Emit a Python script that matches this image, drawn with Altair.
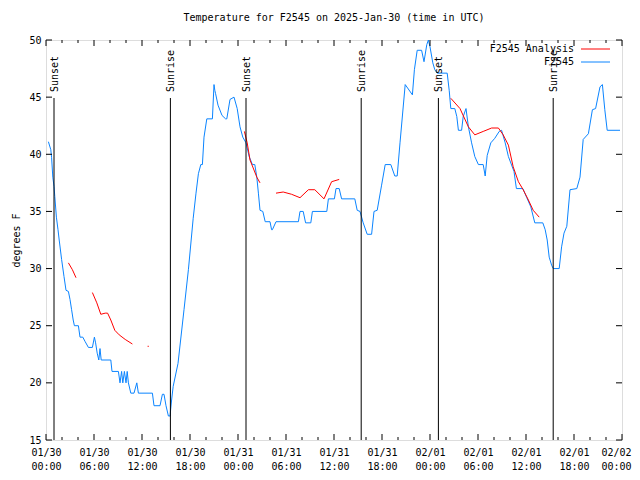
import altair as alt
import pandas as pd

# ---- data (hours since 2025-01-30 00:00 UTC, temperature in F) ----
obs_hours = [0.3, 0.6, 0.7, 0.85, 1.0, 1.1, 1.3, 1.5, 1.65, 1.95, 2.25, 2.5, 2.8, 3.0, 3.2, 3.4, 3.55,
             4.05, 4.25, 4.6, 4.9, 5.3, 5.8, 6.05, 6.2, 6.4, 6.6, 6.75, 6.9, 8.1, 8.25, 9.05, 9.25,
             9.45, 9.6, 9.8, 10.0, 10.15, 10.3, 10.6, 11.0, 11.35, 11.55, 13.3, 13.5, 14.25, 14.55,
             14.75, 15.0, 15.3, 15.5, 15.7, 15.9, 16.5, 17.25, 17.8, 18.4, 18.75, 19.05, 19.35, 19.55,
             19.75, 20.1, 20.8, 21.0, 21.1, 21.2, 21.5, 22.0, 22.45, 22.6, 23.0, 23.5, 23.9, 24.25,
             24.6, 25.0, 25.4, 25.8, 26.1, 26.35, 26.55, 26.75, 27.1, 27.4, 28.0, 28.2, 28.3, 28.75,
             31.55, 31.75, 32.15, 32.45, 33.1, 33.3, 35.1, 35.3, 36.05, 36.25, 36.65, 36.95, 38.6,
             38.9, 39.25, 39.65, 40.15, 40.7, 41.0, 41.4, 41.95, 42.4, 43.1, 43.6, 43.9, 44.25, 44.9,
             45.8, 46.05, 46.4, 46.95, 47.25, 47.6, 47.8, 48.0, 48.35, 48.6, 48.9, 50.15, 50.4, 50.6,
             51.1, 51.35, 51.55, 51.95, 52.15, 52.5, 52.8, 53.2, 53.6, 54.05, 54.65, 54.9, 55.15,
             55.6, 56.1, 56.65, 56.95, 57.4, 57.8, 58.5, 58.8, 59.6, 60.1, 60.6, 61.1, 62.1, 62.4,
             62.65, 62.9, 63.2, 63.4, 64.15, 64.45, 64.75, 65.1, 65.5, 66.35, 66.75, 67.15, 67.8,
             68.3, 68.7, 69.25, 69.55, 69.85, 70.15, 71.75]
obs_temps = [41.1, 40.4, 39.7, 38.0, 37.2, 36.3, 34.5, 33.4, 32.5, 30.8, 29.3, 28.1, 28.0, 27.3, 26.4,
             25.5, 25.0, 25.0, 24.0, 24.0, 23.6, 23.1, 23.1, 24.0, 23.5, 22.6, 22.0, 23.0, 22.0, 22.0,
             21.0, 21.0, 20.0, 21.0, 20.0, 21.0, 20.0, 21.0, 20.0, 19.1, 19.1, 20.0, 19.1, 19.1, 18.0,
             18.0, 19.0, 19.0, 18.0, 17.1, 17.1, 18.5, 19.7, 21.7, 26.4, 29.9, 34.4, 36.6, 38.3, 39.1,
             39.1, 41.5, 43.1, 43.1, 46.1, 45.6, 45.3, 44.3, 43.4, 43.1, 43.1, 44.8, 45.0, 44.0, 42.4,
             41.5, 41.0, 39.8, 39.1, 39.1, 38.0, 36.6, 35.1, 35.0, 34.1, 34.1, 33.4, 33.4, 34.1, 34.1,
             35.0, 35.0, 34.0, 34.0, 35.0, 35.0, 36.1, 36.1, 37.0, 37.0, 36.1, 36.1, 35.1, 35.0, 34.0,
             33.0, 33.0, 35.0, 35.1, 37.3, 39.1, 39.1, 38.1, 38.1, 41.0, 46.1, 45.2, 47.4, 49.1, 49.1,
             48.1, 49.6, 50.0, 49.4, 48.0, 47.4, 47.1, 47.1, 45.6, 44.0, 44.0, 43.3, 42.1, 42.1, 43.3,
             44.0, 42.4, 41.0, 39.8, 39.1, 39.1, 38.1, 39.9, 41.0, 41.4, 42.0, 42.1, 41.0, 39.8, 38.5,
             37.0, 37.0, 36.2, 35.4, 34.0, 34.0, 33.4, 32.5, 31.0, 30.3, 30.0, 30.0, 31.9, 33.1, 33.7,
             36.9, 37.0, 38.0, 41.3, 41.8, 43.9, 44.0, 45.9, 46.1, 43.9, 42.1, 42.1]

ana_hours = [2.8, 3.3, 3.75,
             5.8, 6.35, 6.85, 7.4, 7.7, 8.1, 8.6, 9.15, 9.9, 10.8,
             12.7, 12.85,
             24.8, 25.15, 25.5, 25.9, 26.35, 26.75,
             28.75, 29.65, 30.7, 31.75, 32.8, 33.6, 34.75, 35.7, 36.65,
             48.7, 48.8,
             50.6, 51.75, 52.8, 53.6, 54.65, 55.7, 56.55, 57.15, 57.8, 58.4, 59.05, 59.65, 60.3,
             60.9, 61.65]
ana_temps = [30.5, 29.9, 29.2,
             27.9, 27.0, 26.0, 26.1, 26.1, 25.5, 24.6, 24.2, 23.8, 23.4,
             23.2, 23.2,
             42.0, 41.0, 39.5, 38.8, 38.0, 37.5,
             36.6, 36.7, 36.5, 36.2, 36.9, 36.9, 36.1, 37.6, 37.8,
             46.6, 46.6,
             44.9, 44.0, 42.4, 41.7, 42.0, 42.3, 42.3, 41.7, 40.8, 38.9, 37.6, 36.9, 36.0,
             35.1, 34.5]
ana_segment = [1] * 3 + [2] * 10 + [3] * 2 + [4] * 6 + [5] * 9 + [6] * 2 + [7] * 15

sun_hours = [1.0, 15.55, 25.0, 39.4, 49.05, 63.4]
sun_labels = ["Sunset", "Sunrise", "Sunset", "Sunrise", "Sunset", "Sunrise"]

day_labels = ["01/30", "01/31", "02/01", "02/02"]
x_label_hours = [0, 6, 12, 18, 24, 30, 36, 42, 48, 54, 60, 66, 72]
x_minor_hours = [2, 4, 8, 10, 14, 16, 20, 22, 26, 28, 32, 34, 38, 40, 44, 46, 50, 52, 56, 58, 62, 64, 68, 70]
y_ticks = [15, 20, 25, 30, 35, 40, 45, 50]

FONT = "DejaVu Sans Mono"
W, H = 576, 400
RED = "#ff0000"
BLUE = "#0a84ff"

obs = pd.DataFrame({"h": obs_hours, "t": obs_temps})
ana = pd.DataFrame({"h": ana_hours, "t": ana_temps, "seg": ana_segment})
sun = pd.DataFrame({"h": sun_hours, "label": sun_labels})
xmaj = pd.DataFrame({"h": x_label_hours})
xmin = pd.DataFrame({"h": x_minor_hours})
yt = pd.DataFrame({"v": y_ticks})
one = pd.DataFrame({"a": [0]})

day_js = "[" + ",".join(f"'{d}'" for d in day_labels) + "]"
label_expr = (f"[{day_js}[floor(datum.value/24)], "
              "(datum.value%24<10?'0':'') + (datum.value%24) + ':00']")

xscale = alt.Scale(domain=[0, 72], nice=False, zero=False)
yscale = alt.Scale(domain=[15, 50], nice=False, zero=False)

xaxis = alt.Axis(values=x_label_hours, labelExpr=label_expr, tickSize=0, domain=False,
                 grid=False, title=None, labelPadding=7, labelLineHeight=14,
                 labelFlush=False, labelOverlap=False, labelBound=False,
                 labelOffset={"condition": {"test": "datum.value == 72", "value": -6}, "value": 0},
                 labelFont=FONT, labelFontSize=10, labelColor="black")
yaxis = alt.Axis(values=y_ticks, tickSize=0, domain=False, grid=False, title="degrees F",
                 labelPadding=5, labelFont=FONT, labelFontSize=10, labelColor="black",
                 labelFlush=False, labelOverlap=False,
                 titleFont=FONT, titleFontSize=10, titleFontWeight="normal", titleColor="black",
                 titlePadding=7)

base_obs = alt.Chart(obs).mark_line(color=BLUE, strokeWidth=1).encode(
    x=alt.X("h:Q", scale=xscale, axis=xaxis),
    y=alt.Y("t:Q", scale=yscale, axis=yaxis),
)

ana_line = alt.Chart(ana).mark_line(color=RED, strokeWidth=1).encode(
    x=alt.X("h:Q", scale=xscale),
    y=alt.Y("t:Q", scale=yscale),
    detail="seg:N",
)

sun_rule = alt.Chart(sun).mark_rule(color="black", strokeWidth=1).encode(
    x=alt.X("h:Q", scale=xscale), y=alt.value(58), y2=alt.value(H)
)
sun_text = alt.Chart(sun).mark_text(angle=270, align="left", baseline="middle", font=FONT,
                                    fontSize=10, color="black", dy=1).encode(
    x=alt.X("h:Q", scale=xscale), y=alt.value(52), text="label:N"
)

# inward ticks, gnuplot-style, on all four sides
tick_layers = [
    alt.Chart(xmaj).mark_rule(color="black").encode(x=alt.X("h:Q", scale=xscale), y=alt.value(H), y2=alt.value(H - 6)),
    alt.Chart(xmaj).mark_rule(color="black").encode(x=alt.X("h:Q", scale=xscale), y=alt.value(0), y2=alt.value(6)),
    alt.Chart(xmin).mark_rule(color="black").encode(x=alt.X("h:Q", scale=xscale), y=alt.value(H), y2=alt.value(H - 3)),
    alt.Chart(xmin).mark_rule(color="black").encode(x=alt.X("h:Q", scale=xscale), y=alt.value(0), y2=alt.value(3)),
    alt.Chart(yt).mark_rule(color="black").encode(y=alt.Y("v:Q", scale=yscale), x=alt.value(0), x2=alt.value(6)),
    alt.Chart(yt).mark_rule(color="black").encode(y=alt.Y("v:Q", scale=yscale), x=alt.value(W), x2=alt.value(W - 6)),
]

# key (top right)
key_layers = [
    alt.Chart(one).mark_text(align="right", baseline="middle", font=FONT, fontSize=10, color="black",
                             text="F2545 Analysis").encode(x=alt.value(528), y=alt.value(9)),
    alt.Chart(one).mark_rule(color=RED, strokeWidth=1).encode(x=alt.value(535), x2=alt.value(564), y=alt.value(9)),
    alt.Chart(one).mark_text(align="right", baseline="middle", font=FONT, fontSize=10, color="black",
                             text="F2545").encode(x=alt.value(528), y=alt.value(22)),
    alt.Chart(one).mark_rule(color=BLUE, strokeWidth=1).encode(x=alt.value(535), x2=alt.value(564), y=alt.value(22)),
]

chart = alt.layer(
    base_obs, ana_line, sun_rule, sun_text, *tick_layers, *key_layers
).properties(
    width=W, height=H,
    title=alt.TitleParams("Temperature for F2545 on 2025-Jan-30 (time in UTC)", font=FONT,
                          fontSize=10, fontWeight="normal", color="black", anchor="middle", offset=12),
    autosize=alt.AutoSizeParams(type="none"),
    padding={"left": 38, "top": 32, "right": 10, "bottom": 32},
).configure_view(stroke="black", strokeWidth=1).configure(background="white")

chart.save("out.html", embed_options={"renderer": "svg", "actions": False})
